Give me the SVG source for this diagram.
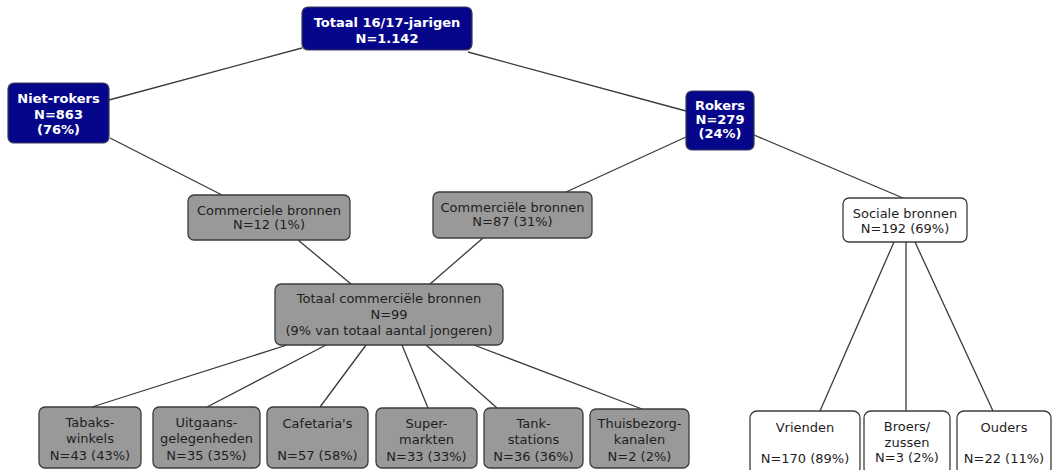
<svg xmlns="http://www.w3.org/2000/svg" width="1053" height="470" viewBox="0 0 1053 470">
<style>
.navy{fill:#06068a;stroke:#3a3a5a;stroke-width:1.2}
.gray{fill:#999999;stroke:#3c3c3c;stroke-width:1.3}
.white{fill:#ffffff;stroke:#3c3c3c;stroke-width:1.3}
.tb{font-family:"DejaVu Sans",Verdana,sans-serif;font-size:13px;font-weight:bold;fill:#ffffff;text-anchor:middle}
.t{font-family:"DejaVu Sans",Verdana,sans-serif;font-size:13px;fill:#1e1e1e;text-anchor:middle}
.c line{stroke:#3a3a3a;stroke-width:1.3}
</style>
<rect width="1053" height="470" fill="#ffffff"/>
<g class="c" id="connectors">
<line x1="302" y1="48" x2="109" y2="100"/>
<line x1="468" y1="52" x2="686" y2="111"/>
<line x1="110" y1="138" x2="222" y2="195"/>
<line x1="686" y1="137" x2="566" y2="192"/>
<line x1="754" y1="135" x2="903" y2="198"/>
<line x1="298" y1="240" x2="351" y2="284"/>
<line x1="483" y1="238" x2="430" y2="284"/>
<line x1="287" y1="345" x2="92" y2="407"/>
<line x1="326" y1="345" x2="207" y2="407"/>
<line x1="366" y1="345" x2="320" y2="407"/>
<line x1="402" y1="345" x2="428" y2="408"/>
<line x1="426" y1="345" x2="497" y2="408"/>
<line x1="474" y1="345" x2="642" y2="409"/>
<line x1="894" y1="242" x2="820" y2="411"/>
<line x1="906" y1="242" x2="906" y2="411"/>
<line x1="915" y1="242" x2="993" y2="411"/>
</g>
<g id="totaal">
<rect class="navy" x="302" y="7" width="170" height="43" rx="6"/>
<text class="tb" x="387" y="27">Totaal 16/17-jarigen</text>
<text class="tb" x="387" y="43">N=1.142</text>
</g>
<g id="nietrokers">
<rect class="navy" x="8" y="83" width="101" height="60" rx="6"/>
<text class="tb" x="58.5" y="103">Niet-rokers</text>
<text class="tb" x="58.5" y="118.5">N=863</text>
<text class="tb" x="58.5" y="134">(76%)</text>
</g>
<g id="rokers">
<rect class="navy" x="686" y="91" width="68" height="59" rx="6"/>
<text class="tb" x="720" y="110">Rokers</text>
<text class="tb" x="720" y="124">N=279</text>
<text class="tb" x="720" y="138">(24%)</text>
</g>
<g id="comm12">
<rect class="gray" x="188" y="195" width="162" height="45" rx="6"/>
<text class="t" x="269" y="215">Commerciele bronnen</text>
<text class="t" x="269" y="229">N=12 (1%)</text>
</g>
<g id="comm87">
<rect class="gray" x="433" y="192" width="159" height="46" rx="6"/>
<text class="t" x="512.5" y="212">Commerciële bronnen</text>
<text class="t" x="512.5" y="226">N=87 (31%)</text>
</g>
<g id="sociale">
<rect class="white" x="843" y="198" width="124" height="44" rx="6"/>
<text class="t" x="905" y="218">Sociale bronnen</text>
<text class="t" x="905" y="233">N=192 (69%)</text>
</g>
<g id="totaalcomm">
<rect class="gray" x="275" y="284" width="228" height="61" rx="6"/>
<text class="t" x="389" y="303">Totaal commerciële bronnen</text>
<text class="t" x="389" y="319">N=99</text>
<text class="t" x="389" y="335">(9% van totaal aantal jongeren)</text>
</g>
<g id="tabaks">
<rect class="gray" x="39" y="407" width="102" height="61" rx="6"/>
<text class="t" x="90" y="427">Tabaks-</text>
<text class="t" x="90" y="443">winkels</text>
<text class="t" x="90" y="460">N=43 (43%)</text>
</g>
<g id="uitgaans">
<rect class="gray" x="153" y="407" width="107" height="61" rx="6"/>
<text class="t" x="206.5" y="427">Uitgaans-</text>
<text class="t" x="206.5" y="443">gelegenheden</text>
<text class="t" x="206.5" y="460">N=35 (35%)</text>
</g>
<g id="cafetaria">
<rect class="gray" x="267" y="407" width="101" height="61" rx="6"/>
<text class="t" x="317.5" y="428">Cafetaria's</text>
<text class="t" x="317.5" y="460">N=57 (58%)</text>
</g>
<g id="super">
<rect class="gray" x="376" y="408" width="101" height="60" rx="6"/>
<text class="t" x="426.5" y="428">Super-</text>
<text class="t" x="426.5" y="444">markten</text>
<text class="t" x="426.5" y="461">N=33 (33%)</text>
</g>
<g id="tank">
<rect class="gray" x="484" y="408" width="99" height="60" rx="6"/>
<text class="t" x="533.5" y="428">Tank-</text>
<text class="t" x="533.5" y="444">stations</text>
<text class="t" x="533.5" y="461">N=36 (36%)</text>
</g>
<g id="thuis">
<rect class="gray" x="590" y="409" width="99" height="59" rx="6"/>
<text class="t" x="639.5" y="428">Thuisbezorg-</text>
<text class="t" x="639.5" y="444">kanalen</text>
<text class="t" x="639.5" y="461">N=2 (2%)</text>
</g>
<g id="vrienden">
<rect class="white" x="750" y="411" width="110" height="64" rx="7"/>
<text class="t" x="805" y="432">Vrienden</text>
<text class="t" x="805" y="463">N=170 (89%)</text>
</g>
<g id="broers">
<rect class="white" x="864" y="411" width="86" height="64" rx="7"/>
<text class="t" x="907" y="431">Broers/</text>
<text class="t" x="907" y="447">zussen</text>
<text class="t" x="907" y="462">N=3 (2%)</text>
</g>
<g id="ouders">
<rect class="white" x="957" y="411" width="94" height="64" rx="7"/>
<text class="t" x="1004" y="432">Ouders</text>
<text class="t" x="1004" y="463">N=22 (11%)</text>
</g>
</svg>
